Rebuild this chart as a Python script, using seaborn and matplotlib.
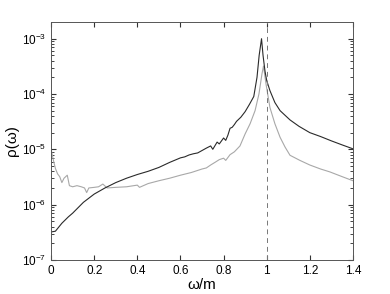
"""
Spectral density rho(omega) vs omega/m on a log scale
"""

import pandas as pd
import seaborn as sns
import matplotlib.pyplot as plt
from matplotlib.ticker import FixedLocator, NullFormatter

black_x = [0.0, 0.02, 0.05, 0.08, 0.1, 0.15, 0.2, 0.25, 0.3, 0.35, 0.4, 0.45,
           0.5, 0.55, 0.6, 0.62, 0.64, 0.66, 0.68, 0.7, 0.72, 0.74, 0.75, 0.77,
           0.78, 0.8, 0.81, 0.82, 0.83, 0.84, 0.85, 0.86, 0.88, 0.9, 0.92, 0.94,
           0.955, 0.965, 0.976, 0.983, 0.992, 1.0, 1.015, 1.038, 1.062, 1.108,
           1.15, 1.2, 1.25, 1.3, 1.35, 1.4]
black_rho = [3.2e-7, 3.3e-7, 4.6e-7, 6.0e-7, 7.0e-7, 1.1e-6, 1.55e-6, 2.0e-6,
             2.5e-6, 3.0e-6, 3.5e-6, 4.0e-6, 4.7e-6, 5.8e-6, 7.0e-6, 7.3e-6,
             7.9e-6, 8.3e-6, 8.6e-6, 9.5e-6, 1.05e-5, 1.15e-5, 1.0e-5, 1.35e-5,
             1.25e-5, 1.6e-5, 1.45e-5, 1.8e-5, 2.4e-5, 2.5e-5, 2.8e-5, 3.2e-5,
             3.8e-5, 4.8e-5, 6.5e-5, 9.0e-5, 2.0e-4, 5.0e-4, 1.0e-3, 5.0e-4,
             2.6e-4, 1.75e-4, 1.15e-4, 7.0e-5, 5.0e-5, 3.4e-5, 2.6e-5, 2.0e-5,
             1.7e-5, 1.42e-5, 1.2e-5, 1.02e-5]

gray_x = [0.0, 0.01, 0.02, 0.03, 0.04, 0.05, 0.06, 0.075, 0.085, 0.1, 0.12,
          0.14, 0.155, 0.165, 0.175, 0.2, 0.22, 0.24, 0.26, 0.3, 0.35, 0.4,
          0.41, 0.45, 0.5, 0.55, 0.6, 0.65, 0.7, 0.72, 0.74, 0.76, 0.78, 0.8,
          0.81, 0.83, 0.85, 0.876, 0.9, 0.923, 0.946, 0.964, 0.978, 0.985,
          0.997, 1.015, 1.038, 1.062, 1.085, 1.108, 1.154, 1.2, 1.25, 1.293,
          1.35, 1.4]
gray_rho = [1.0e-5, 6.5e-6, 4.5e-6, 3.6e-6, 3.2e-6, 2.5e-6, 3.0e-6, 3.4e-6,
            2.2e-6, 2.1e-6, 2.2e-6, 2.1e-6, 2.0e-6, 1.65e-6, 2.0e-6, 2.05e-6,
            2.1e-6, 2.35e-6, 2.0e-6, 2.05e-6, 2.1e-6, 2.25e-6, 2.05e-6, 2.4e-6,
            2.7e-6, 3.0e-6, 3.4e-6, 3.8e-6, 4.4e-6, 4.6e-6, 5.2e-6, 5.8e-6,
            6.5e-6, 6.9e-6, 6.3e-6, 8.0e-6, 9.0e-6, 1.15e-5, 1.9e-5, 2.9e-5,
            5.0e-5, 1.0e-4, 2.3e-4, 3.2e-4, 1.5e-4, 5.7e-5, 2.9e-5, 1.65e-5,
            1.1e-5, 7.8e-6, 6.3e-6, 5.2e-6, 4.4e-6, 3.9e-6, 3.2e-6, 2.7e-6]

y_major = [1e-7, 1e-6, 1e-5, 1e-4, 1e-3]
x_major = [0, 0.2, 0.4, 0.6, 0.8, 1, 1.2, 1.4]
x_labels = ['0', '0.2', '0.4', '0.6', '0.8', '1', '1.2', '1.4']

sns.set_style('ticks')
plt.rcParams['font.family'] = ['Liberation Sans', 'DejaVu Sans']
plt.rcParams['mathtext.fontset'] = 'custom'
plt.rcParams['mathtext.rm'] = 'Liberation Sans'
plt.rcParams['mathtext.it'] = 'Liberation Sans:italic'
plt.rcParams['text.color'] = 'black'
plt.rcParams['axes.labelcolor'] = 'black'
plt.rcParams['xtick.labelcolor'] = 'black'
plt.rcParams['ytick.labelcolor'] = 'black'

fig = plt.figure(figsize=(3.9, 2.94), dpi=100)
ax = fig.add_axes([0.131, 0.116, 0.774, 0.809])

black = pd.DataFrame({'x': black_x, 'rho': black_rho})
gray = pd.DataFrame({'x': gray_x, 'rho': gray_rho})
sns.lineplot(data=gray, x='x', y='rho', color='#a8a8a8', lw=0.8, ax=ax)
sns.lineplot(data=black, x='x', y='rho', color='#2a2a2a', lw=0.8, ax=ax)
ax.axvline(1.0, color='#777777', lw=0.7, ls=(0, (5, 4)))

ax.set_yscale('log')
ax.set_xlim(0, 1.4)
ax.set_ylim(1e-7, 2e-3)
ax.set_xticks(x_major)
ax.set_xticklabels(x_labels)
ax.set_yticks(y_major)
# minor ticks 2..9 within each decade
minor = [m * d for d in y_major for m in range(2, 10) if m * d < 2e-3]
ax.yaxis.set_minor_locator(FixedLocator(minor))
ax.yaxis.set_minor_formatter(NullFormatter())
ax.tick_params(which='both', direction='in', top=True, right=True,
               labelsize=8.5, color='#333333')
ax.tick_params(which='major', length=3.5, width=0.8)
ax.tick_params(axis='y', which='minor', left=True, right=True,
               length=2.2, width=0.7, color='#444444')
for s in ax.spines.values():
    s.set_linewidth(0.7)
    s.set_color('#555555')

ax.set_xlabel('ω/m', fontsize=11, labelpad=1)
ax.set_ylabel('ρ(ω)', fontsize=11, labelpad=2)

plt.savefig('out.png', dpi=100)
